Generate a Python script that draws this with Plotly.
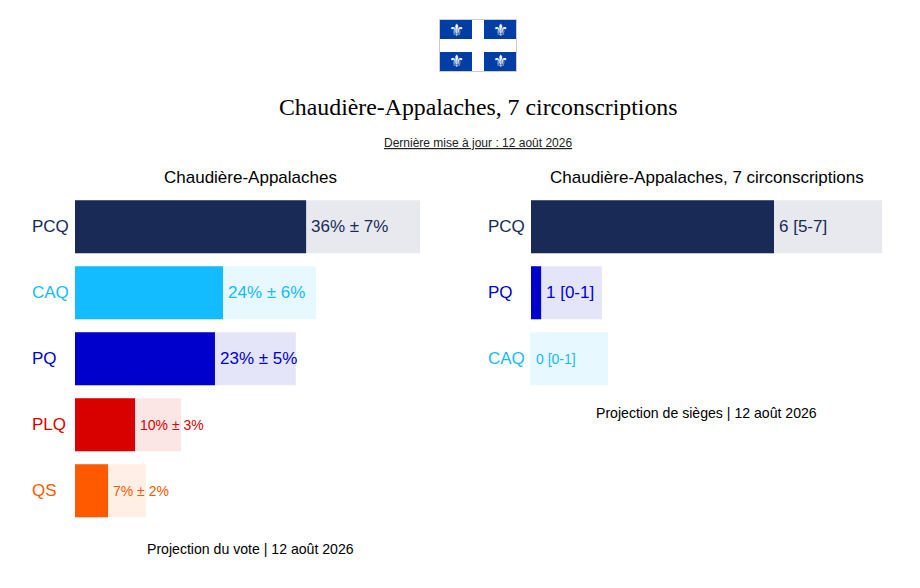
import plotly.graph_objects as go

W = 920
H = 588

vote_parties = ['PCQ', 'CAQ', 'PQ', 'PLQ', 'QS']
vote_mean = [36, 23.05, 21.8, 9.35, 5.15]
vote_high = [53.75, 37.55, 34.4, 16.5, 11.05]
vote_labels = ['36% ± 7%', '24% ± 6%', '23% ± 5%', '10% ± 3%', '7% ± 2%']
vote_label_sizes = [17, 17, 17, 14, 14]

seat_parties = ['PCQ', 'PQ', 'CAQ']
seat_mean = [6, 0.25, 0]
seat_low = [0, 0, -0.025]
seat_high = [8.67, 1.75, 1.9]
seat_labels = ['6 [5-7]', '1 [0-1]', '0 [0-1]']
seat_label_sizes = [17, 17, 14]

party_colors = {'PCQ': '#192a56', 'CAQ': '#12bcff', 'PQ': '#0000cc', 'PLQ': '#d90000', 'QS': '#ff5a00'}
party_light = {'PCQ': '#e8e9ee', 'CAQ': '#e7f8ff', 'PQ': '#e5e5fa', 'PLQ': '#fbe5e5', 'QS': '#ffefe5'}

FONT = 'Liberation Sans, Arial, sans-serif'

annotations = []


def px(x):
    return x / W


def py(y):
    return 1 - y / H


def add_text(text, x, y, size, color='#000000', family=FONT):
    annotations.append(dict(text=text, x=px(x), y=py(y), xref='paper', yref='paper', showarrow=False,
                            xanchor='center', yanchor='middle', font=dict(family=family, size=size, color=color)))


def add_panel(fig, parties, mean, high, labels, sizes, xaxis, yaxis, label_x, low=None):
    fig.add_trace(go.Bar(y=parties, x=[h - (low[i] if low else 0) for i, h in enumerate(high)],
                         base=low if low else 0, orientation='h', width=0.803,
                         marker=dict(color=[party_light[p] for p in parties], line_width=0),
                         xaxis=xaxis, yaxis=yaxis, hoverinfo='skip'))
    fig.add_trace(go.Bar(y=parties, x=mean, orientation='h', width=0.803,
                         marker=dict(color=[party_colors[p] for p in parties], line_width=0),
                         xaxis=xaxis, yaxis=yaxis, hoverinfo='skip'))
    for i, p in enumerate(parties):
        annotations.append(dict(text=labels[i], x=mean[i], y=p, xref=xaxis, yref=yaxis, showarrow=False,
                                xanchor='left', xshift=3,
                                font=dict(family=FONT, size=sizes[i], color=party_colors[p])))
        annotations.append(dict(text=p, x=px(label_x), xref='paper', y=p, yref=yaxis, showarrow=False,
                                xanchor='left', font=dict(family=FONT, size=17, color=party_colors[p])))


fig = go.Figure()
add_panel(fig, vote_parties, vote_mean, vote_high, vote_labels, vote_label_sizes, 'x', 'y', 30)
add_panel(fig, seat_parties, seat_mean, seat_high, seat_labels, seat_label_sizes, 'x2', 'y2', 486, seat_low)

add_text('Chaudière-Appalaches, 7 circonscriptions', 478, 107, 23.8, family='Liberation Serif, serif')
add_text('<u>Dernière mise à jour : 12 août 2026</u>', 478, 143, 12, '#222222')
add_text('Chaudière-Appalaches', 250.5, 177.6, 17)
add_text('Chaudière-Appalaches, 7 circonscriptions', 706.5, 177.6, 17)
add_text('Projection du vote | 12 août 2026', 250.5, 549, 14.1)
add_text('Projection de sièges | 12 août 2026', 706.5, 413, 14.1)

# flag of Quebec
shapes = [dict(type='rect', xref='paper', yref='paper', x0=px(439.5), x1=px(516.5), y0=py(19.5), y1=py(71.5),
               fillcolor='white', line=dict(color='#cccccc', width=1))]
for x0, x1 in [(440, 472), (484, 516)]:
    for y0, y1 in [(20, 39), (52, 71)]:
        shapes.append(dict(type='rect', xref='paper', yref='paper', x0=px(x0), x1=px(x1), y0=py(y0), y1=py(y1),
                           fillcolor='#003da5', line_width=0))
        add_text('⚜', (x0 + x1) / 2, (y0 + y1) / 2, 17, 'white', 'DejaVu Sans')

fig.update_layout(
    width=W, height=H, margin=dict(l=0, r=0, t=0, b=0), autosize=False,
    plot_bgcolor='white', paper_bgcolor='white', showlegend=False, barmode='overlay',
    annotations=annotations, shapes=shapes,
    xaxis=dict(domain=[px(75), px(75 + 54 * 6.42)], range=[0, 54], visible=False),
    yaxis=dict(domain=[py(523.7), py(193.7)], categoryorder='array', categoryarray=vote_parties,
               autorange=False, range=[4.5, -0.5], visible=False),
    xaxis2=dict(domain=[px(529), px(531 + 9 * 40.5)], range=[-2 / 40.5, 9], visible=False, anchor='y2'),
    yaxis2=dict(domain=[py(391.7), py(193.7)], categoryorder='array', categoryarray=seat_parties,
                autorange=False, range=[2.5, -0.5], visible=False, anchor='x2'),
)

fig.write_html('out.html', config={'displayModeBar': False}, post_script="document.body.style.margin='0';")
